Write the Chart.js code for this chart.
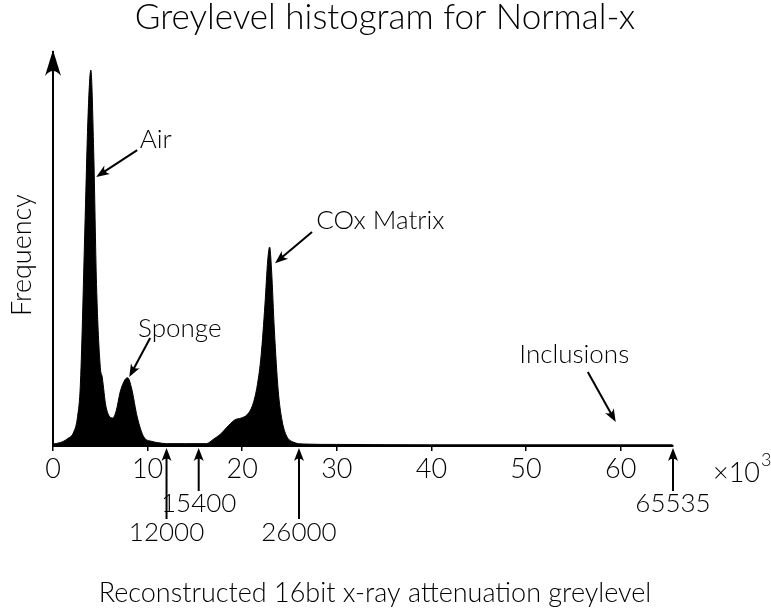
<!DOCTYPE html>
<html>
<head>
<meta charset="utf-8">
<script src="https://cdn.jsdelivr.net/npm/chart.js@4.4.0/dist/chart.umd.min.js"></script>
<style>
  html, body { margin: 0; padding: 0; background: #fff; }
  #wrap { width: 771px; height: 610px; }
</style>
</head>
<body>
<div id="wrap"><canvas id="histChart" width="771" height="610"></canvas></div>
<script>
// greylevel (x 1000) and relative frequency
const greylevel = [0, 0.8, 1.5, 2.2, 2.6, 2.9, 3.4, 3.7, 4.0, 4.3, 4.6, 5.0, 5.2, 5.6, 6.3, 6.7, 7.1, 7.6, 7.9, 8.3, 8.9, 9.6, 10.4, 11.2, 12, 14, 16.2, 17.0, 17.7, 18.4, 19.2, 19.9, 20.5, 21.1, 21.6, 22.0, 22.4, 22.7, 22.9, 23.1, 23.4, 23.8, 24.2, 24.7, 25.4, 26.5, 30, 40, 50, 60, 65.5];
const frequency = [0.5, 0.9, 1.8, 3.6, 7.5, 16, 58, 83.5, 95.4, 75, 41, 20, 17.5, 10, 7.1, 9.1, 13.7, 16.8, 17.3, 14.7, 7.4, 2.3, 1.2, 0.8, 0.6, 0.6, 0.6, 1.8, 3, 4.8, 6.6, 7.1, 7.9, 10.4, 15.5, 23, 35.8, 47.2, 50.5, 44.7, 29.4, 14.2, 6.6, 2.5, 1, 0.5, 0.4, 0.3, 0.3, 0.3, 0.3];
const xTicks = [0, 10, 20, 30, 40, 50, 60];

// peak labels: text point and arrow tail/tip, in data units
const peakNames = ['Air', 'Sponge', 'COx Matrix', 'Inclusions'];
const peakText = [[10.85, 77.7], [13.4, 29.9], [34.6, 57.1], [55.1, 23.1]];
const peakArrow = [[8.9, 75.1, 4.57, 68.3], [10.27, 27.4, 8.06, 17.5], [27.38, 54.3, 23.47, 46.4], [56.53, 18.8, 59.48, 6.1]];

// thresholds marked under the axis
const markValues = [12000, 15400, 26000, 65535];
const markRow = [2, 1, 2, 1];

const FONT = 'Lato, "DejaVu Sans", sans-serif';
const W = '300 ';

function arrow(ctx, x1, y1, x2, y2) {
  const a = Math.atan2(y2 - y1, x2 - x1);
  const len = 13, hw = 5;
  ctx.beginPath();
  ctx.moveTo(x1, y1);
  ctx.lineTo(x2 - Math.cos(a) * 6, y2 - Math.sin(a) * 6);
  ctx.stroke();
  ctx.save();
  ctx.translate(x2, y2);
  ctx.rotate(a);
  ctx.beginPath();
  ctx.moveTo(0, 0);
  ctx.lineTo(-len, -hw);
  ctx.quadraticCurveTo(-len * 0.6, 0, -len, hw);
  ctx.closePath();
  ctx.fill();
  ctx.restore();
}

const decor = {
  id: 'decor',
  afterDraw(chart) {
    const ctx = chart.ctx;
    const xs = chart.scales.x, ys = chart.scales.y;
    const area = chart.chartArea;
    ctx.save();
    ctx.fillStyle = '#000';
    ctx.strokeStyle = '#000';
    ctx.lineWidth = 2;

    // y axis arrow head
    const ax = area.left;
    ctx.beginPath();
    ctx.moveTo(ax, area.top - 2);
    ctx.lineTo(ax - 8, area.top + 24);
    ctx.quadraticCurveTo(ax, area.top + 14, ax + 8, area.top + 24);
    ctx.closePath();
    ctx.fill();

    // title and axis titles
    ctx.textAlign = 'center';
    ctx.textBaseline = 'middle';
    ctx.font = W + '35px ' + FONT;
    ctx.fillText('Greylevel histogram for Normal-x', 385, 18);
    ctx.font = W + '27px ' + FONT;
    ctx.fillText('Reconstructed 16bit x-ray attenuation greylevel', 375, 593);
    ctx.save();
    ctx.translate(22, 255);
    ctx.rotate(-Math.PI / 2);
    ctx.fillText('Frequency', 0, 0);
    ctx.restore();

    // x10^3
    ctx.textAlign = 'left';
    ctx.font = W + '27px ' + FONT;
    ctx.fillText('\u00d710', 713, 473);
    const w = ctx.measureText('\u00d710').width;
    ctx.font = W + '18px ' + FONT;
    ctx.fillText('3', 713 + w + 1, 460);

    // peak labels
    ctx.textAlign = 'center';
    peakNames.forEach((name, i) => {
      ctx.font = W + '26px ' + FONT;
      ctx.fillText(name, xs.getPixelForValue(peakText[i][0]), ys.getPixelForValue(peakText[i][1]));
      const p = peakArrow[i];
      arrow(ctx, xs.getPixelForValue(p[0]), ys.getPixelForValue(p[1]), xs.getPixelForValue(p[2]), ys.getPixelForValue(p[3]));
    });

    // threshold markers
    const base = area.bottom;
    markValues.forEach((v, i) => {
      const px = xs.getPixelForValue(v / 1000);
      const tail = markRow[i] === 1 ? base + 45 : base + 73;
      const lab = markRow[i] === 1 ? base + 58 : base + 87;
      arrow(ctx, px, tail, px, base + 2);
      ctx.font = W + '26px ' + FONT;
      ctx.fillText(String(v), px, lab);
    });
    ctx.restore();
  }
};

new Chart(document.getElementById('histChart').getContext('2d'), {
  type: 'line',
  data: {
    datasets: [{
      label: 'Frequency',
      data: greylevel.map((g, i) => ({ x: g, y: frequency[i] })),
      borderColor: '#000',
      backgroundColor: '#000',
      borderWidth: 1,
      fill: 'origin',
      pointRadius: 0,
      cubicInterpolationMode: 'monotone'
    }]
  },
  options: {
    responsive: false,
    animation: false,
    devicePixelRatio: 1,
    layout: { padding: { top: 52, right: 98, left: 0, bottom: 0 } },
    plugins: {
      legend: { display: false },
      tooltip: { enabled: false },
      title: { display: false }
    },
    scales: {
      x: {
        type: 'linear',
        min: 0,
        max: 65.535,
        afterFit: s => { s.height = 164; },
        afterBuildTicks: s => { s.ticks = xTicks.map(v => ({ value: v })); },
        grid: { drawOnChartArea: false, drawTicks: true, tickLength: 5, color: '#000', lineWidth: 1.5 },
        border: { display: true, color: '#000', width: 2 },
        ticks: { color: '#000', padding: 2, font: { size: 27, family: FONT, weight: '300' }, maxRotation: 0 }
      },
      y: {
        min: 0,
        max: 100,
        afterFit: s => { s.width = 53; },
        grid: { display: false },
        border: { display: true, color: '#000', width: 2 },
        ticks: { display: false }
      }
    }
  },
  plugins: [decor]
});
</script>
</body>
</html>
